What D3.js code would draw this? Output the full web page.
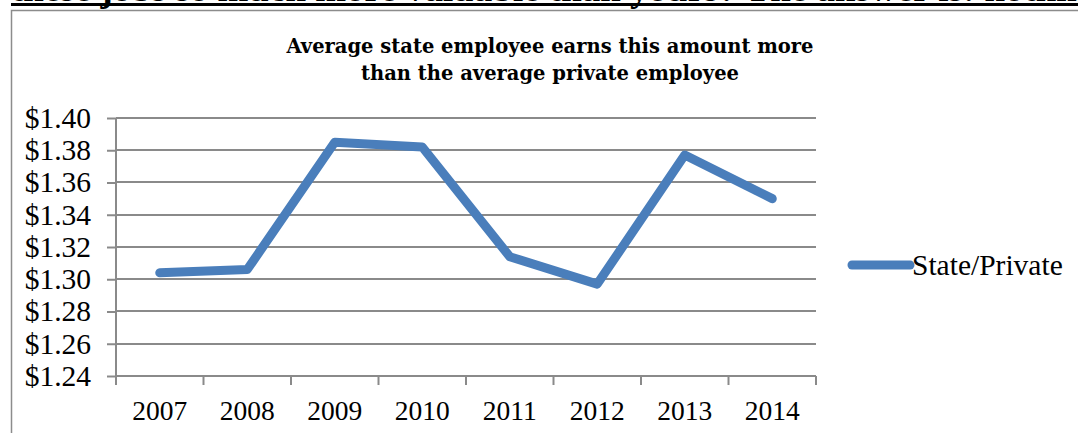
<!DOCTYPE html>
<html>
<head>
<meta charset="utf-8">
<script src="https://cdn.jsdelivr.net/npm/d3@7"></script>
<style>
  body { margin: 0; background: #fff; }
  svg { display: block; }
</style>
</head>
<body>
<div id="chart"></div>
<script>
// data
var years = ["2007", "2008", "2009", "2010", "2011", "2012", "2013", "2014"];
var statePrivate = [1.304, 1.306, 1.385, 1.382, 1.314, 1.297, 1.377, 1.350];
var yTicks = [1.24, 1.26, 1.28, 1.30, 1.32, 1.34, 1.36, 1.38, 1.40];
var seriesName = "State/Private";
var titleLines = ["Average state employee earns this amount more", "than the average private employee"];
var pageText = "these jobs so much more valuable than yours? The answer is: nothing";

var W = 1078, H = 433;
var plot = { left: 116, right: 816, top: 118, bottom: 376 };
var blue = "#4a7ebb", gridGray = "#8a8a8a";

var svg = d3.select("#chart").append("svg")
  .attr("width", W)
  .attr("height", H);

svg.append("rect").attr("width", W).attr("height", H).attr("fill", "#fff");

// line of page text above the chart, cut by the top edge as in the picture
svg.append("text")
  .attr("x", 11)
  .attr("y", 0.5)
  .attr("font-family", "Liberation Serif")
  .attr("font-weight", "bold")
  .attr("font-size", 37)
  .attr("fill", "#000")
  .text(pageText);
svg.append("line")
  .attr("x1", 11).attr("x2", W)
  .attr("y1", 4.5).attr("y2", 4.5)
  .attr("stroke", "#000").attr("stroke-width", 3);

// chart frame
svg.append("path")
  .attr("d", "M11.5," + H + "V10.5H" + W)
  .attr("fill", "none")
  .attr("stroke", "#8c8c8c")
  .attr("stroke-width", 1.5);

// title
svg.append("text")
  .attr("x", 550)
  .attr("y", 53)
  .attr("text-anchor", "middle")
  .attr("font-family", "DejaVu Serif")
  .attr("font-weight", "bold")
  .attr("font-size", 19.5)
  .selectAll("tspan")
  .data(titleLines)
  .enter()
  .append("tspan")
  .attr("x", 550)
  .attr("dy", function (d, i) { return i ? 27 : 0; })
  .text(function (d) { return d; });

// scales
var x = d3.scaleBand().domain(years).range([plot.left, plot.right]);
var y = d3.scaleLinear().domain([1.24, 1.40]).range([plot.bottom, plot.top]);

// y axis with gridlines
var yAxis = svg.append("g")
  .attr("transform", "translate(" + plot.left + ",0)")
  .call(d3.axisLeft(y)
    .tickValues(yTicks)
    .tickSize(9)
    .tickPadding(16)
    .tickFormat(function (d) { return "$" + d.toFixed(2); }));
yAxis.select(".domain").remove();
yAxis.selectAll(".tick line").attr("stroke", gridGray).attr("stroke-width", 2);
yAxis.selectAll(".tick text")
  .attr("font-family", "Liberation Serif")
  .attr("font-size", 29.5)
  .attr("fill", "#000");

svg.append("g")
  .selectAll("line")
  .data(yTicks)
  .enter()
  .append("line")
  .attr("x1", plot.left).attr("x2", plot.right)
  .attr("y1", function (d) { return Math.round(y(d)); })
  .attr("y2", function (d) { return Math.round(y(d)); })
  .attr("stroke", gridGray)
  .attr("stroke-width", 2);

svg.append("line")
  .attr("x1", plot.left).attr("x2", plot.left)
  .attr("y1", plot.top).attr("y2", plot.bottom + 9)
  .attr("stroke", gridGray)
  .attr("stroke-width", 2);

// x axis: ticks on band edges, labels in band centres
var xAxis = svg.append("g");
xAxis.selectAll("line")
  .data(years.concat(["end"]))
  .enter()
  .append("line")
  .attr("x1", function (d, i) { return i < years.length ? x(d) : plot.right; })
  .attr("x2", function (d, i) { return i < years.length ? x(d) : plot.right; })
  .attr("y1", plot.bottom).attr("y2", plot.bottom + 9)
  .attr("stroke", gridGray)
  .attr("stroke-width", 2);
xAxis.selectAll("text")
  .data(years)
  .enter()
  .append("text")
  .attr("x", function (d) { return x(d) + x.bandwidth() / 2; })
  .attr("y", 420)
  .attr("text-anchor", "middle")
  .attr("font-family", "Liberation Serif")
  .attr("font-size", 27.5)
  .attr("fill", "#000")
  .text(function (d) { return d; });

// the series line
var line = d3.line()
  .x(function (d, i) { return x(years[i]) + x.bandwidth() / 2; })
  .y(function (d) { return y(d); });

svg.append("path")
  .datum(statePrivate)
  .attr("d", line)
  .attr("fill", "none")
  .attr("stroke", blue)
  .attr("stroke-width", 9)
  .attr("stroke-linecap", "round")
  .attr("stroke-linejoin", "round");

// legend
var legend = svg.append("g").attr("transform", "translate(852,265)");
legend.append("line")
  .attr("x1", 0).attr("x2", 58)
  .attr("stroke", blue)
  .attr("stroke-width", 9)
  .attr("stroke-linecap", "round");
legend.append("text")
  .attr("x", 60)
  .attr("dy", "0.35em")
  .attr("font-family", "Liberation Serif")
  .attr("font-size", 29.5)
  .attr("fill", "#000")
  .text(seriesName);
</script>
</body>
</html>
